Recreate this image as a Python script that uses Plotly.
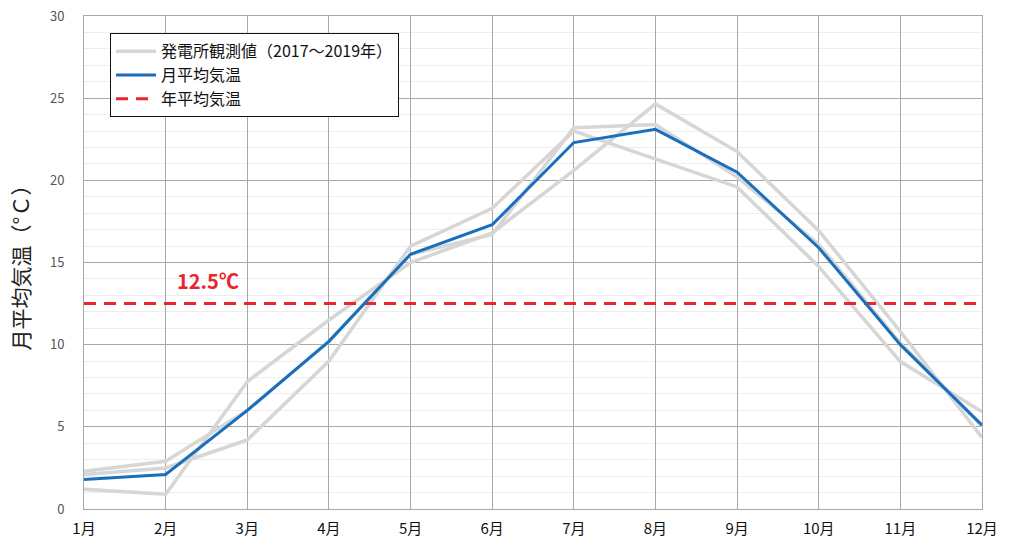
import plotly.graph_objects as go

# Months and tick labels
months = list(range(1, 13))
month_labels = [f"{m}月" for m in months]

# Station observations (2017-2019), one list per year
obs_year_a = [2.3, 2.9, 6.0, 10.2, 15.5, 16.7, 23.2, 23.4, 20.2, 16.1, 10.1, 5.05]
obs_year_b = [2.1, 2.5, 4.2, 9.0, 16.0, 18.3, 23.0, 21.3, 19.6, 14.75, 8.97, 5.92]
obs_year_c = [1.2, 0.9, 7.75, 11.5, 15.0, 16.8, 20.6, 24.65, 21.75, 16.94, 10.8, 4.36]

# Monthly mean temperature
monthly_mean = [1.8, 2.1, 6.0, 10.2, 15.5, 17.3, 22.3, 23.1, 20.5, 15.9, 10.0, 5.1]

# Annual mean temperature
annual_mean = 12.5

FONT = "Noto Sans CJK JP"
GRAY = "#d6d6d6"
BLUE = "#1a6fbd"
RED = "#e8262d"

fig = go.Figure()

for i, ys in enumerate([obs_year_a, obs_year_b, obs_year_c]):
    fig.add_trace(go.Scatter(
        x=months, y=ys, mode="lines",
        line=dict(color=GRAY, width=3.5),
        name="発電所観測値（2017～2019年）",
        legendgroup="obs", showlegend=(i == 0), legendrank=1,
        hoverinfo="skip",
    ))

fig.add_trace(go.Scatter(
    x=[months[0], months[-1]], y=[annual_mean, annual_mean], mode="lines",
    line=dict(color=RED, width=3, dash="12px,8px"),
    name="年平均気温", legendrank=3,
))

fig.add_trace(go.Scatter(
    x=months, y=monthly_mean, mode="lines",
    line=dict(color=BLUE, width=3),
    name="月平均気温", legendrank=2,
))

fig.add_annotation(
    x=2.52, y=13.9, xref="x", yref="y",
    text=f"<b>{annual_mean}℃</b>", showarrow=False,
    font=dict(family=FONT, size=20, color=RED),
)

fig.update_layout(
    width=1009, height=538,
    margin=dict(l=84, r=27, t=16, b=29, autoexpand=False),
    paper_bgcolor="white", plot_bgcolor="white",
    font=dict(family=FONT, color="#222"),
    showlegend=True,
    legend=dict(
        x=0.029, y=0.965, xanchor="left", yanchor="top",
        bgcolor="white", bordercolor="#111", borderwidth=1,
        font=dict(family=FONT, size=16, color="#111"),
        tracegroupgap=0, itemwidth=40,
    ),
    xaxis=dict(
        range=[1, 12], tickmode="array", tickvals=months, ticktext=month_labels,
        showgrid=True, gridcolor="#a8a8a8", gridwidth=1,
        zeroline=False, showline=True, linecolor="#a8a8a8", mirror=True,
        ticks="", ticklabelstandoff=6, automargin=False,
        tickfont=dict(family=FONT, size=15, color="#111"),
    ),
    yaxis=dict(
        range=[0, 30], dtick=5, tick0=0,
        showgrid=True, gridcolor="#a8a8a8", gridwidth=1,
        minor=dict(dtick=1, showgrid=True, gridcolor="#eeeeee", gridwidth=1),
        zeroline=False, showline=True, linecolor="#a8a8a8", mirror=True,
        ticks="", ticklabelstandoff=16, automargin=False,
        tickfont=dict(family=FONT, size=13, color="#555"),
        title=dict(text="月平均気温（°Ｃ）", standoff=14,
                   font=dict(family=FONT, size=21, color="#222")),
    ),
)

fig.write_html("out.html")
